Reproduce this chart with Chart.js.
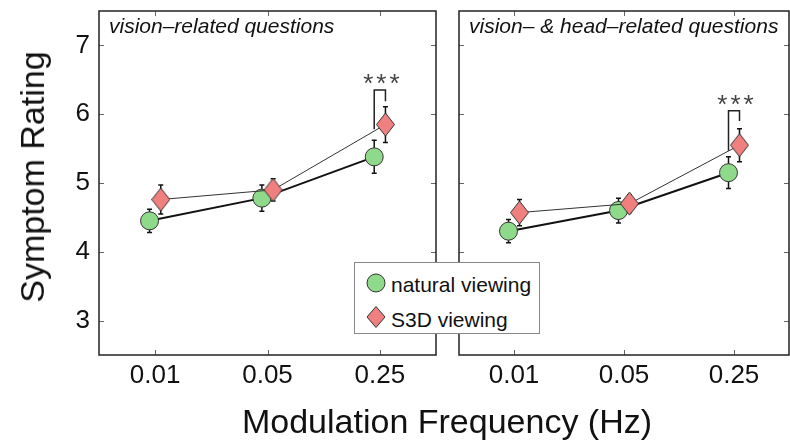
<!DOCTYPE html>
<html>
<head>
<meta charset="utf-8">
<script src="https://cdn.jsdelivr.net/npm/chart.js@4"></script>
<style>
  html, body { margin: 0; padding: 0; background: #fff; overflow: hidden; }
  #wrap { position: relative; width: 800px; height: 443px; font-family: "Liberation Sans", Arial, sans-serif; color: #111; }
  canvas { position: absolute; top: 0; }
  #c1 { left: 0; }
  #c2 { left: 448px; }
  #ytitle { position: absolute; left: 32px; top: 177px; transform: translate(-50%, -50%) rotate(-90deg); font-size: 34px; white-space: nowrap; line-height: 1; }
  #xtitle { position: absolute; left: 447px; top: 404px; transform: translateX(-50%); font-size: 34px; white-space: nowrap; line-height: 1; }
  #legend { position: absolute; left: 354px; top: 262px; width: 184px; height: 70px; border: 1px solid #888; background: #fff; z-index: 5; }
  .item { position: absolute; left: 10px; font-size: 21px; line-height: 1; white-space: nowrap; }
  .item svg { position: absolute; left: 0; }
  .item span { position: absolute; left: 26px; }
</style>
</head>
<body>
<div id="wrap">
  <canvas id="c1" width="448" height="443"></canvas>
  <canvas id="c2" width="352" height="443"></canvas>
  <div id="ytitle">Symptom Rating</div>
  <div id="xtitle">Modulation Frequency (Hz)</div>
  <div id="legend">
    <div class="item" style="top:9px">
      <svg width="22" height="22" style="top:0"><circle cx="11" cy="11" r="9" fill="#8fd98a" stroke="#333" stroke-width="1"/></svg>
      <span style="top:2px">natural viewing</span>
    </div>
    <div class="item" style="top:44px">
      <svg width="22" height="24" style="top:-2px"><polygon points="11,1.5 20,12 11,22.5 2,12" fill="#f08080" stroke="#333" stroke-width="1"/></svg>
      <span style="top:2px">S3D viewing</span>
    </div>
  </div>
</div>
<script>
// categorie e tick
const freqLabels = ['0.01', '0.05', '0.25'];
const yTickValues = [3, 4, 5, 6, 7];

// pannello sinistro: vision-related
const natVision = [4.45, 4.78, 5.38];
const natVisionErr = [0.17, 0.19, 0.24];
const s3dVision = [4.76, 4.90, 5.85];
const s3dVisionErr = [0.21, 0.16, 0.26];

// pannello destro: vision- & head-related
const natHead = [4.30, 4.60, 5.15];
const natHeadErr = [0.17, 0.18, 0.23];
const s3dHead = [4.57, 4.70, 5.55];
const s3dHeadErr = [0.19, 0.13, 0.24];

// parentesi di significatività: [gamba sinistra, sommità, gamba destra]
const sigVision = [5.78, 6.35, 6.19];
const sigHead = [5.47, 6.05, 5.90];
const sigIndex = 2;
const sigText = '***';

const dodge = 0.05;
const green = '#8fd98a';
const red = '#f08080';

// marker a rombo (più alto che largo)
function diamond() {
  const c = document.createElement('canvas');
  c.width = 19; c.height = 25;
  const g = c.getContext('2d');
  g.beginPath();
  g.moveTo(9.5, 1); g.lineTo(18.5, 12.5); g.lineTo(9.5, 24); g.lineTo(0.5, 12.5); g.closePath();
  g.fillStyle = red; g.fill();
  g.strokeStyle = '#333'; g.lineWidth = 1; g.stroke();
  return c;
}
const diamondImg = diamond();

const pts = (vals, off) => vals.map((v, i) => ({ x: i + off, y: v }));

// cornice, tacche interne, titolo del pannello
const framePlugin = {
  id: 'frame',
  afterDraw(chart, args, opts) {
    const { ctx, chartArea: a, scales: { x, y } } = chart;
    ctx.save();
    ctx.strokeStyle = '#666'; ctx.lineWidth = 1;
    yTickValues.forEach(v => {
      const py = Math.round(y.getPixelForValue(v)) + 0.5;
      ctx.beginPath();
      ctx.moveTo(a.left, py); ctx.lineTo(a.left + 5, py);
      ctx.moveTo(a.right, py); ctx.lineTo(a.right - 5, py);
      ctx.stroke();
    });
    freqLabels.forEach((l, i) => {
      const px = Math.round(x.getPixelForValue(i)) + 0.5;
      ctx.beginPath();
      ctx.moveTo(px, a.top); ctx.lineTo(px, a.top + 5);
      ctx.moveTo(px, a.bottom); ctx.lineTo(px, a.bottom - 5);
      ctx.stroke();
    });
    ctx.strokeStyle = '#222'; ctx.lineWidth = 1.5;
    ctx.strokeRect(a.left, a.top, a.right - a.left, a.bottom - a.top);
    ctx.fillStyle = '#111';
    ctx.font = 'italic 21px "Liberation Sans", Arial, sans-serif';
    ctx.textBaseline = 'alphabetic';
    ctx.fillText(opts.title, a.left + 10, 33);
    ctx.restore();
  }
};

// barre d'errore sotto i marker, parentesi e asterischi sopra
const errorPlugin = {
  id: 'errbars',
  beforeDatasetsDraw(chart, args, opts) {
    const { ctx, scales: { x, y } } = chart;
    ctx.save();
    ctx.strokeStyle = '#111'; ctx.lineWidth = 1.5;
    opts.sets.forEach(s => {
      s.vals.forEach((v, i) => {
        const px = x.getPixelForValue(i + s.off);
        const y1 = y.getPixelForValue(v + s.err[i]);
        const y2 = y.getPixelForValue(v - s.err[i]);
        ctx.beginPath();
        ctx.moveTo(px, y1); ctx.lineTo(px, y2);
        ctx.moveTo(px - 2.5, y1); ctx.lineTo(px + 2.5, y1);
        ctx.moveTo(px - 2.5, y2); ctx.lineTo(px + 2.5, y2);
        ctx.stroke();
      });
    });
    ctx.restore();
  },
  afterDatasetsDraw(chart, args, opts) {
    const { ctx, scales: { x, y } } = chart;
    const b = opts.sig;
    const xl = x.getPixelForValue(sigIndex - dodge);
    const xr = x.getPixelForValue(sigIndex + dodge);
    const yt = y.getPixelForValue(b[1]);
    ctx.save();
    ctx.strokeStyle = '#222'; ctx.lineWidth = 1.5;
    ctx.beginPath();
    ctx.moveTo(xl, y.getPixelForValue(b[0]));
    ctx.lineTo(xl, yt); ctx.lineTo(xr, yt);
    ctx.lineTo(xr, y.getPixelForValue(b[2]));
    ctx.stroke();
    ctx.fillStyle = '#444';
    ctx.font = '26px "Liberation Sans", Arial, sans-serif';
    ctx.letterSpacing = '3px';
    ctx.textAlign = 'center';
    ctx.textBaseline = 'alphabetic';
    ctx.fillText(sigText, x.getPixelForValue(sigIndex) + 3, yt + 2);
    ctx.restore();
  }
};

function makeChart(id, nat, natErr, s3d, s3dErr, sig, title, showY, yWidth, padRight) {
  return new Chart(document.getElementById(id), {
    type: 'line',
    data: {
      datasets: [
        {
          label: 'S3D viewing',
          data: pts(s3d, dodge),
          order: 1,
          borderColor: '#333', borderWidth: 1,
          pointStyle: diamondImg,
          pointRadius: 10
        },
        {
          label: 'natural viewing',
          data: pts(nat, -dodge),
          order: 2,
          borderColor: '#111', borderWidth: 2,
          pointStyle: 'circle', pointRadius: 9,
          pointBackgroundColor: green, pointBorderColor: '#333', pointBorderWidth: 1
        }
      ]
    },
    options: {
      responsive: false,
      animation: false,
      layout: { padding: { top: 6, right: padRight, left: 0, bottom: 0 } },
      plugins: {
        legend: { display: false },
        tooltip: { enabled: false },
        frame: { title: title },
        errbars: {
          sig: sig,
          sets: [
            { vals: nat, err: natErr, off: -dodge },
            { vals: s3d, err: s3dErr, off: dodge }
          ]
        }
      },
      scales: {
        x: {
          type: 'linear', min: -0.5, max: 2.5,
          afterBuildTicks: s => { s.ticks = freqLabels.map((l, i) => ({ value: i })); },
          afterFit: s => { s.height = 88; s.paddingLeft = 0; s.paddingRight = 0; },
          ticks: {
            callback: v => freqLabels[v],
            font: { family: '"Liberation Sans", Arial, sans-serif', size: 26 },
            color: '#111', padding: 5, maxRotation: 0, autoSkip: false
          },
          grid: { display: false, drawTicks: false },
          border: { display: false }
        },
        y: {
          min: 2.5, max: 7.5,
          afterBuildTicks: s => { s.ticks = yTickValues.map(v => ({ value: v })); },
          afterFit: s => { s.width = yWidth; s.paddingTop = 0; s.paddingBottom = 0; },
          ticks: {
            display: showY,
            font: { family: '"Liberation Sans", Arial, sans-serif', size: 26 },
            color: '#111', padding: 9
          },
          grid: { display: false, drawTicks: false },
          border: { display: false }
        }
      }
    },
    plugins: [framePlugin, errorPlugin]
  });
}

makeChart('c1', natVision, natVisionErr, s3dVision, s3dVisionErr, sigVision,
  'vision\u2013related questions', true, 99, 12);
makeChart('c2', natHead, natHeadErr, s3dHead, s3dHeadErr, sigHead,
  'vision\u2013 & head\u2013related questions', false, 11, 4);
</script>
</body>
</html>
